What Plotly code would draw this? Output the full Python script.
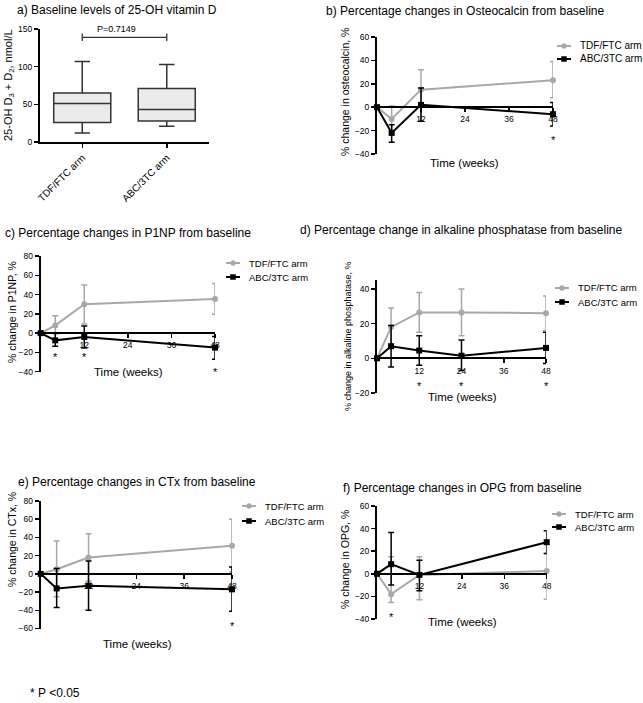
import plotly.graph_objects as go

W, H = 643, 703
FONT = "Arial, Liberation Sans, Helvetica, sans-serif"

# ------------------------- data -------------------------
box_groups = ["TDF/FTC arm", "ABC/3TC arm"]
box_low = [12, 21]
box_q1 = [26, 28]
box_median = [51, 43]
box_q3 = [65, 71]
box_high = [107, 103]
p_value_label = "P=0.7149"
p_bracket_y = 139

series_names = ["TDF/FTC arm", "ABC/3TC arm"]

# b) Osteocalcin
weeks_b = [0, 4, 12, 48]
osteo_tdf = [0, -10, 15, 23]
osteo_tdf_up = [0, 11, 17, 16]
osteo_tdf_dn = [0, 10, 27, 15]
osteo_abc = [0, -22, 2, -6]
osteo_abc_up = [0, 7, 14.5, 10]
osteo_abc_dn = [0, 8, 14, 10]
osteo_sig_weeks = [48]

# c) P1NP
weeks_c = [0, 4, 12, 48]
p1np_tdf = [0, 8, 30, 35.5]
p1np_tdf_up = [0, 10, 20, 16]
p1np_tdf_dn = [0, 8, 20.5, 16]
p1np_abc = [0, -7.5, -4, -15]
p1np_abc_up = [0, 7, 11.5, 11.5]
p1np_abc_dn = [0, 6, 11.5, 12]
p1np_sig_weeks = [4, 12, 48]

# d) Alkaline phosphatase
weeks_d = [0, 4, 12, 24, 48]
alp_tdf = [0, 18, 26.5, 26.5, 26]
alp_tdf_up = [0, 11, 11.5, 13.5, 10]
alp_tdf_dn = [0, 11, 11.5, 13.5, 10]
alp_abc = [0, 7, 4.5, 1.5, 6]
alp_abc_up = [0, 12, 8.5, 9, 9]
alp_abc_dn = [0, 12, 8.5, 8.5, 9]
alp_sig_weeks = [12, 24, 48]

# e) CTx
weeks_e = [0, 4, 12, 48]
ctx_tdf = [0, 5, 18, 31]
ctx_tdf_up = [0, 31, 26, 29]
ctx_tdf_dn = [0, 30, 26, 29]
ctx_abc = [0, -16, -13, -17]
ctx_abc_up = [0, 22, 27, 24.5]
ctx_abc_dn = [0, 21, 27, 24]
ctx_sig_weeks = [48]

# f) OPG
weeks_f = [0, 4, 12, 48]
opg_tdf = [0, -18, -1, 2.5]
opg_tdf_up = [0, 33, 16, 15.5]
opg_tdf_dn = [0, 7.5, 22, 25]
opg_abc = [0, 8.5, -1, 28]
opg_abc_up = [0, 28, 13, 10]
opg_abc_dn = [0, 18.5, 14, 10]
opg_sig_weeks = [4]

week_ticks = [12, 24, 36, 48]

# ------------------------- layout helpers -------------------------
def fx(p):
    return p / W

def fy(p):
    return 1 - p / H

GREY = "#a8a8a8"
BLACK = "#000000"

fig = go.Figure()
annotations = []
shapes = []


def text_at(px, py, text, size, xanchor="center", angle=0):
    annotations.append(dict(x=fx(px), y=fy(py), xref="paper", yref="paper",
                            xanchor=xanchor, yanchor="middle", text=text,
                            textangle=angle, showarrow=False,
                            font=dict(size=size, family=FONT, color="black")))


# ---------- panel a ----------
fig.add_trace(go.Box(
    x=[0, 1], q1=box_q1, median=box_median, q3=box_q3,
    lowerfence=box_low, upperfence=box_high,
    width=0.675, whiskerwidth=0.27,
    fillcolor="#ebebeb", line=dict(color="#333333", width=1.5),
    boxpoints=False, showlegend=False, hoverinfo="skip",
    xaxis="x", yaxis="y"))

layout = dict(
    width=W, height=H, margin=dict(l=0, r=0, t=0, b=0, autoexpand=False),
    paper_bgcolor="white", plot_bgcolor="white", showlegend=False,
    font=dict(family=FONT, color="black", size=10),
)

axis_common = dict(showgrid=False, zeroline=False, showline=True,
                   linecolor="black", linewidth=2, ticks="outside",
                   ticklen=4, tickwidth=1.5, tickcolor="black", automargin=False,
                   tickfont=dict(size=8.5, family=FONT, color="black"))

layout["xaxis"] = dict(axis_common, domain=[fx(40), fx(209)], range=[-0.5, 1.5],
                       tickvals=[0, 1], ticktext=box_groups, tickangle=-45,
                       anchor="y", tickfont=dict(size=10, family=FONT, color="black"))
layout["yaxis"] = dict(axis_common, domain=[fy(142), fy(29)], range=[0, 150],
                       tickvals=[0, 50, 100, 150], anchor="x")

# bracket
shapes.append(dict(type="line", xref="x", yref="y", x0=0, x1=1,
                   y0=p_bracket_y, y1=p_bracket_y, line=dict(color="#333", width=1.3)))
for xv in (0, 1):
    shapes.append(dict(type="line", xref="x", yref="y", x0=xv, x1=xv,
                       y0=p_bracket_y - 5, y1=p_bracket_y + 5, line=dict(color="#333", width=1.3)))
annotations.append(dict(x=0.4, y=p_bracket_y + 2, xref="x", yref="y", text=p_value_label,
                        showarrow=False, xanchor="center", yanchor="bottom",
                        font=dict(size=9, family=FONT, color="black")))
text_at(9, 85, "25-OH D<sub>3</sub> + D<sub>2</sub>, nmol/L", 11, angle=-90)
text_at(15, 10, "a) Baseline levels of 25-OH vitamin D", 12, xanchor="left")

# ---------- line panels ----------
panels = [
    dict(n=2, weeks=weeks_b, tdf=(osteo_tdf, osteo_tdf_up, osteo_tdf_dn),
         abc=(osteo_abc, osteo_abc_up, osteo_abc_dn), sig=osteo_sig_weeks,
         xpx=(377, 553), yrange=(-40, 60), ypx=(154, 37), yticks=[-40, -20, 0, 20, 40, 60],
         title="b) Percentage changes in Osteocalcin from baseline", title_pos=(324, 11),
         ytitle="% change in osteocalcin, %", ytitle_pos=(345, 92), ytitle_size=10.5,
         xtitle_pos=(465, 163), star_y=-28, legend_pos=(578, 46, 59), legend_size=10),
    dict(n=3, weeks=weeks_c, tdf=(p1np_tdf, p1np_tdf_up, p1np_tdf_dn),
         abc=(p1np_abc, p1np_abc_up, p1np_abc_dn), sig=p1np_sig_weeks,
         xpx=(40.7, 215), yrange=(-40, 80), ypx=(371.7, 256), yticks=[-40, -20, 0, 20, 40, 60, 80],
         title="c) Percentage changes in P1NP from baseline", title_pos=(3, 233),
         ytitle="% change in P1NP, %", ytitle_pos=(12, 312), ytitle_size=10.5,
         xtitle_pos=(128.5, 372.5), star_y=[-25, -25, -40], legend_pos=(247, 263, 277), legend_size=9.5),
    dict(n=4, weeks=weeks_d, tdf=(alp_tdf, alp_tdf_up, alp_tdf_dn),
         abc=(alp_abc, alp_abc_up, alp_abc_dn), sig=alp_sig_weeks,
         xpx=(377, 546), yrange=(-20, 45), ypx=(393, 280.3), yticks=[-20, 0, 20, 40],
         title="d) Percentage change in alkaline phosphatase from baseline", title_pos=(298, 230),
         ytitle="% change in alkaline phosphatase, %", ytitle_pos=(348, 336), ytitle_size=9,
         xtitle_pos=(462, 397), star_y=-16, legend_pos=(576, 288, 302), legend_size=9.5),
    dict(n=5, weeks=weeks_e, tdf=(ctx_tdf, ctx_tdf_up, ctx_tdf_dn),
         abc=(ctx_abc, ctx_abc_up, ctx_abc_dn), sig=ctx_sig_weeks,
         xpx=(40.7, 232), yrange=(-60, 80), ypx=(628.5, 501), yticks=[-60, -40, -20, 0, 20, 40, 60, 80],
         title="e) Percentage changes in CTx from baseline", title_pos=(16, 482),
         ytitle="% change in CTx, %", ytitle_pos=(12, 540), ytitle_size=10.5,
         xtitle_pos=(137, 644), star_y=-57, legend_pos=(263, 506, 521), legend_size=9.5),
    dict(n=6, weeks=weeks_f, tdf=(opg_tdf, opg_tdf_up, opg_tdf_dn),
         abc=(opg_abc, opg_abc_up, opg_abc_dn), sig=opg_sig_weeks,
         xpx=(377, 546.7), yrange=(-40, 60), ypx=(619, 506), yticks=[-40, -20, 0, 20, 40, 60],
         title="f) Percentage changes in OPG from baseline", title_pos=(341, 488),
         ytitle="% change in OPG, %", ytitle_pos=(345, 560), ytitle_size=10.5,
         xtitle_pos=(462, 622), star_y=-38, legend_pos=(573, 514, 527), legend_size=9.5),
]

for p in panels:
    n = p["n"]
    xa, ya = f"x{n}", f"y{n}"
    styles = ((series_names[0], p["tdf"], GREY, "circle"),
              (series_names[1], p["abc"], BLACK, "square"))
    for name, (vals, up, dn), color, symbol in styles:
        fig.add_trace(go.Scatter(
            x=p["weeks"], y=vals, name=name, mode="lines+markers",
            line=dict(color=color, width=2),
            marker=dict(color=color, symbol=symbol, size=6),
            error_y=dict(type="data", symmetric=False, array=up, arrayminus=dn,
                         color=color, thickness=1.5, width=3),
            cliponaxis=False, xaxis=xa, yaxis=ya, hoverinfo="skip"))
    ymin, ymax = p["yrange"]
    bot, top = p["ypx"]
    zero_px = bot - (0 - ymin) / (ymax - ymin) * (bot - top)
    layout[f"xaxis{n}"] = dict(axis_common, domain=[fx(p["xpx"][0]), fx(p["xpx"][1])],
                               range=[0, 48], tickvals=week_ticks, anchor="free",
                               position=fy(zero_px))
    layout[f"yaxis{n}"] = dict(axis_common, domain=[fy(bot), fy(top)], range=[ymin, ymax],
                               tickvals=p["yticks"], anchor=xa)
    # manual legend
    tx, r1, r2 = p["legend_pos"]
    for (name, _, color, symbol), ry in zip(styles, (r1, r2)):
        shapes.append(dict(type="line", xref="paper", yref="paper",
                           x0=fx(tx - 21), x1=fx(tx - 7), y0=fy(ry), y1=fy(ry),
                           line=dict(color=color, width=2)))
        mx = tx - 14
        shapes.append(dict(type="circle" if symbol == "circle" else "rect",
                           xref="paper", yref="paper",
                           x0=fx(mx - 2.5), x1=fx(mx + 2.5), y0=fy(ry + 2.5), y1=fy(ry - 2.5),
                           fillcolor=color, line=dict(color=color, width=0.5)))
        text_at(tx, ry, name, p["legend_size"], xanchor="left")
    text_at(p["title_pos"][0], p["title_pos"][1], p["title"], 12, xanchor="left")
    text_at(p["ytitle_pos"][0], p["ytitle_pos"][1], p["ytitle"], p["ytitle_size"], angle=-90)
    text_at(p["xtitle_pos"][0], p["xtitle_pos"][1], "Time (weeks)", 11.5)
    sy = p["star_y"]
    for i, wk in enumerate(p["sig"]):
        yv = sy[i] if isinstance(sy, list) else sy
        annotations.append(dict(x=wk, y=yv, xref=xa, yref=ya, text="*",
                                xanchor="center", yanchor="middle", showarrow=False,
                                font=dict(size=11, family=FONT, color="black")))

text_at(28, 693, "* P <0.05", 12, xanchor="left")

layout["annotations"] = annotations
layout["shapes"] = shapes
fig.update_layout(**layout)
fig.write_html("out.html", config={"displayModeBar": False, "staticPlot": True},
               post_script="document.body.style.margin='0px';")
